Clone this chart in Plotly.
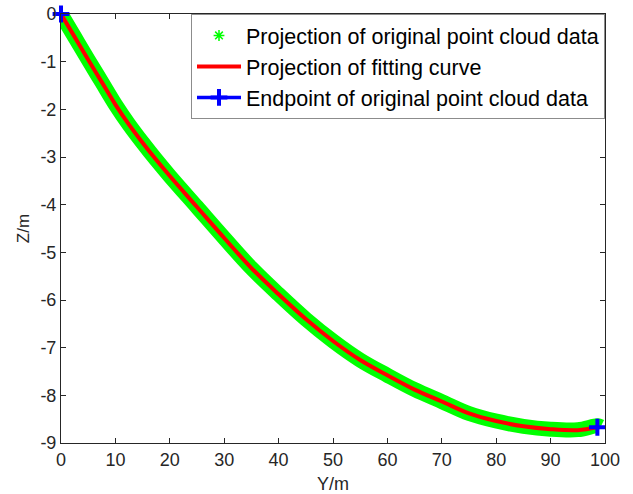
import plotly.graph_objects as go

# Horizontal position Y (m) and depth Z (m) of the fitted curve
curve_y = [0, 2.5, 5, 7.5, 10, 12.5, 15, 17.5, 20, 25, 30, 35, 40, 45, 50,
           55, 60, 65, 70, 75, 80, 85, 90, 95, 98.6]
curve_z = [0, -0.48, -0.96, -1.43, -1.90, -2.32, -2.70, -3.06, -3.40, -4.05,
           -4.70, -5.33, -5.88, -6.40, -6.86, -7.26, -7.58, -7.88, -8.13,
           -8.38, -8.54, -8.65, -8.71, -8.73, -8.67]

# Centre line of the projected point cloud band
cloud_y = [0, 2.5, 5, 7.5, 10, 12.5, 15, 17.5, 20, 25, 30, 35, 40, 45, 50,
           55, 60, 65, 70, 75, 80, 85, 90, 95, 98.6, 99.2]
cloud_z = [0, -0.48, -0.96, -1.43, -1.90, -2.32, -2.70, -3.06, -3.40, -4.05,
           -4.70, -5.33, -5.88, -6.40, -6.86, -7.26, -7.58, -7.88, -8.13,
           -8.38, -8.54, -8.65, -8.71, -8.72, -8.64, -8.66]

# Start and end points of the original point cloud
end_y = [0, 98.6]
end_z = [0, -8.67]

x_ticks = list(range(0, 101, 10))
y_ticks = list(range(-9, 1, 1))

GREEN = "#00FF00"
RED = "#FF0000"
BLUE = "#0000FF"
AXIS = "#262626"
FONT = "Liberation Sans, Arial, sans-serif"

fig = go.Figure()

# point cloud band
fig.add_trace(go.Scatter(
    x=cloud_y, y=cloud_z, mode="lines",
    line=dict(color=GREEN, width=15, shape="spline"),
    showlegend=False, hoverinfo="skip", cliponaxis=False,
))
# legend key for the point cloud
fig.add_trace(go.Scatter(
    x=[None], y=[None], mode="markers",
    marker=dict(symbol="asterisk-open", size=9, color=GREEN,
                line=dict(color=GREEN, width=1.5)),
    name="Projection of original point cloud data",
))
# fitted curve
fig.add_trace(go.Scatter(
    x=curve_y, y=curve_z, mode="lines",
    line=dict(color=RED, width=4, shape="spline"),
    name="Projection of fitting curve",
))
# endpoints
fig.add_trace(go.Scatter(
    x=[end_y[0], None, end_y[1]], y=[end_z[0], None, end_z[1]],
    mode="lines+markers", connectgaps=False,
    line=dict(color=BLUE, width=3.5),
    marker=dict(symbol="cross-thin", size=12, color=BLUE,
                line=dict(color=BLUE, width=4)),
    cliponaxis=False,
    name="Endpoint of original point cloud data",
))

axis_common = dict(
    showline=True, linecolor=AXIS, linewidth=1, mirror="ticks",
    ticks="inside", ticklen=5, tickwidth=1, tickcolor=AXIS,
    showgrid=False, zeroline=False, automargin=False,
    tickfont=dict(family=FONT, size=18, color=AXIS),
)

fig.update_xaxes(
    range=[0, 100], tickvals=x_ticks, ticktext=[str(v) for v in x_ticks],
    title=dict(text="Y/m", font=dict(family=FONT, size=18, color=AXIS), standoff=13),
    **axis_common,
)
fig.update_yaxes(
    range=[-9, 0], tickvals=y_ticks, ticktext=[str(v) for v in y_ticks],
    title=dict(text="Z/m", font=dict(family=FONT, size=17, color=AXIS), standoff=6),
    **axis_common,
)

fig.update_layout(
    width=633, height=494,
    margin=dict(l=61, r=28, t=14, b=51),
    paper_bgcolor="white", plot_bgcolor="white",
    font=dict(family=FONT, color="black"),
    legend=dict(
        x=1, y=1, xanchor="right", yanchor="top",
        bgcolor="white", bordercolor="#8c8c8c", borderwidth=1,
        font=dict(family=FONT, size=21.5, color="black"),
        itemwidth=44, tracegroupgap=0,
    ),
)

fig.write_html("out.html")
